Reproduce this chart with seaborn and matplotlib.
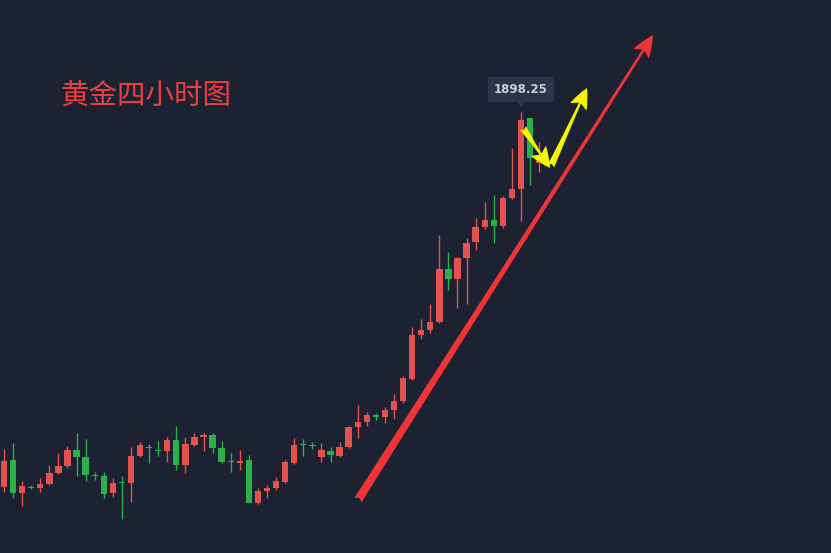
import numpy as np
import pandas as pd
import matplotlib
matplotlib.use("Agg")
import matplotlib.pyplot as plt
import seaborn as sns

# ---- data (gold, 4-hour candles) ----
opens = [1797.0, 1804.3, 1795.4, 1797.0, 1796.7, 1797.8, 1800.8, 1802.7, 1807.0, 1805.1,
         1800.2, 1800.0, 1795.4, 1798.4, 1798.1, 1805.4, 1807.8, 1807.0, 1806.7, 1809.7,
         1802.9, 1808.3, 1810.5, 1811.0, 1807.5, 1804.0, 1803.5, 1804.3, 1792.7, 1795.9,
         1796.7, 1798.4, 1803.5, 1808.6, 1808.3, 1805.1, 1806.7, 1805.4, 1807.8, 1813.2,
         1814.6, 1816.3, 1815.9, 1817.8, 1820.2, 1826.2, 1838.0, 1839.4, 1841.6, 1855.9,
         1853.2, 1858.8, 1863.1, 1867.2, 1869.1, 1867.5, 1875.0, 1877.5, 1896.6, 1884.5]
closes = [1804.0, 1795.4, 1797.3, 1796.7, 1797.8, 1800.8, 1802.7, 1807.0, 1805.1, 1800.2,
          1800.0, 1795.1, 1798.1, 1798.1, 1805.4, 1808.3, 1807.5, 1806.7, 1809.7, 1802.9,
          1808.6, 1810.5, 1811.0, 1807.5, 1803.8, 1803.8, 1804.0, 1792.7, 1795.9, 1796.7,
          1798.6, 1803.8, 1808.3, 1808.3, 1808.1, 1807.0, 1805.6, 1807.8, 1813.2, 1814.6,
          1816.4, 1816.0, 1817.8, 1820.2, 1826.4, 1838.0, 1839.4, 1841.6, 1855.9, 1853.2,
          1858.8, 1862.9, 1867.2, 1869.1, 1867.5, 1875.0, 1877.5, 1896.1, 1885.8, 1886.4]
highs = [1807.3, 1808.9, 1798.6, 1797.5, 1799.4, 1802.9, 1806.2, 1808.1, 1811.6, 1810.0,
         1801.1, 1801.1, 1799.4, 1800.0, 1807.8, 1809.2, 1808.6, 1809.4, 1810.5, 1813.5,
         1810.5, 1811.6, 1811.6, 1811.6, 1809.4, 1806.2, 1807.0, 1805.6, 1796.7, 1797.5,
         1799.7, 1804.3, 1810.2, 1810.0, 1809.2, 1808.9, 1807.8, 1809.2, 1813.5, 1819.1,
         1817.2, 1817.0, 1818.6, 1822.1, 1827.0, 1840.2, 1842.4, 1846.4, 1865.0, 1860.5,
         1859.1, 1864.2, 1869.6, 1874.0, 1875.8, 1875.6, 1888.5, 1898.25, 1896.6, 1890.2]
lows = [1795.6, 1794.0, 1791.9, 1796.5, 1795.6, 1797.5, 1800.5, 1802.1, 1800.0, 1798.6,
        1798.9, 1794.0, 1794.3, 1788.4, 1793.0, 1805.1, 1803.5, 1805.4, 1803.8, 1801.6,
        1800.8, 1808.1, 1806.7, 1806.2, 1803.5, 1801.1, 1801.6, 1792.7, 1792.5, 1794.0,
        1796.2, 1798.2, 1803.3, 1805.4, 1807.3, 1803.8, 1803.8, 1805.2, 1807.5, 1810.2,
        1813.5, 1815.1, 1814.3, 1815.4, 1819.7, 1826.0, 1837.0, 1838.6, 1841.3, 1850.2,
        1845.3, 1846.4, 1861.0, 1866.7, 1862.9, 1867.0, 1874.8, 1868.8, 1878.5, 1882.0]
peak_label = "1898.25"
title_text = "黄金四小时图"

df = pd.DataFrame({"open": opens, "close": closes, "high": highs, "low": lows})
df["idx"] = np.arange(len(df))
df["up"] = df["close"] >= df["open"]

BG = "#1d2233"
RED = "#e2524f"
GREEN = "#2bb04c"

sns.set_theme(style="dark", rc={"axes.facecolor": BG, "figure.facecolor": BG})
plt.rcParams["font.family"] = ["Noto Sans CJK SC", "DejaVu Sans"]

fig = plt.figure(figsize=(8.31, 5.53), dpi=100)
ax = fig.add_axes([0, 0, 1, 1])
ax.set_facecolor(BG)

colors = np.where(df["up"], RED, GREEN)

# wicks
ax.vlines(df["idx"], df["low"], df["high"], colors=colors, linewidth=1.0, zorder=2)
# bodies
bottoms = np.minimum(df["open"], df["close"])
heights = np.maximum(np.abs(df["close"] - df["open"]), 0.35)
ax.bar(df["idx"], heights, bottom=bottoms, width=0.7, color=colors,
       edgecolor="none", zorder=3)

ax.set_xlim(-0.44, 91.18)
ax.set_ylim(1779.18, 1928.49)
ax.set_xticks([])
ax.set_yticks([])
ax.grid(False)
for s in ax.spines.values():
    s.set_visible(False)

# peak label with pointer
peak_i = int(df["high"].idxmax())
ax.annotate(peak_label, xy=(peak_i, df["high"].max()), xytext=(0, 16),
            textcoords="offset points", ha="center", va="center",
            fontsize=8.5, fontweight="semibold", color="#c9ced8", family=["DejaVu Sans"],
            bbox=dict(boxstyle="square,pad=0.5", fc="#2c3547", ec="none"),
            arrowprops=dict(arrowstyle="wedge,tail_width=0.6", fc="#2c3547",
                            ec="none", shrinkA=0, shrinkB=3),
            zorder=5)

# title
fig.text(60 / 831, 1 - 96 / 553, title_text, fontsize=20.5, color="#e8403f",
         ha="left", va="center")

# big red trend arrow
ax.annotate("", xy=(653, 553 - 35), xycoords="figure pixels",
            xytext=(358, 553 - 500), textcoords="figure pixels",
            arrowprops=dict(arrowstyle="fancy,head_length=1.6,head_width=1.3,tail_width=0.6",
                            fc="#ee3535", ec="none", shrinkA=0, shrinkB=0,
                            mutation_scale=10), zorder=6)

# yellow arrows
ax.annotate("", xy=(550, 553 - 168), xycoords="figure pixels",
            xytext=(523, 553 - 128), textcoords="figure pixels",
            arrowprops=dict(arrowstyle="fancy,head_length=1.5,head_width=1.3,tail_width=0.5",
                            fc="#f5f500", ec="none", shrinkA=0, shrinkB=0,
                            mutation_scale=10), zorder=7)
ax.annotate("", xy=(587, 553 - 88), xycoords="figure pixels",
            xytext=(551, 553 - 166), textcoords="figure pixels",
            arrowprops=dict(arrowstyle="fancy,head_length=1.5,head_width=1.3,tail_width=0.5",
                            fc="#f5f500", ec="none", shrinkA=0, shrinkB=0,
                            mutation_scale=10), zorder=7)

fig.savefig("out.png", dpi=100, facecolor=BG)
